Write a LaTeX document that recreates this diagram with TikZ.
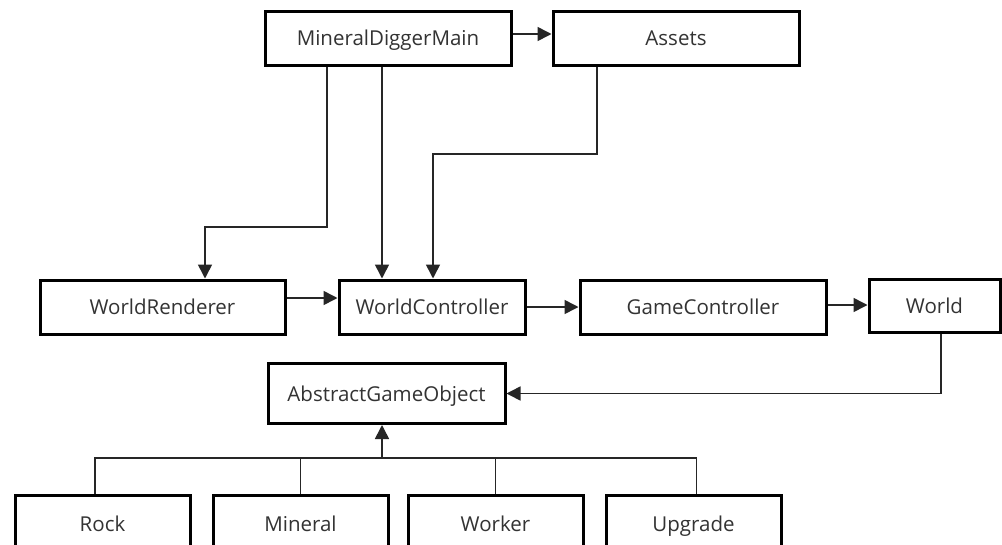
\documentclass[tikz,border=0pt]{standalone}
\usepackage{fontspec}
\setmainfont{Open Sans}
\usetikzlibrary{arrows.meta}
\begin{document}
\begin{tikzpicture}[x=1pt,y=-1pt,
  box/.style={draw=black,line width=3pt,fill=white,inner sep=0pt,minimum height=54pt,
    text height=15pt,text depth=0pt,
    text=black!80,font=\fontsize{20.5}{24}\selectfont},
  conn/.style={draw=black!85,line width=1.6pt},
  arr/.style={conn,-{Triangle[length=14pt,width=14pt]}}]
\useasboundingbox[fill=white] (0,0) rectangle (1002,544);
% nodes
\node[box,minimum width=246pt] (mdm) at (388,38) {MineralDiggerMain};
\node[box,minimum width=246pt] (assets) at (676,38) {Assets};
\node[box,minimum width=245pt] (wr) at (162.5,307) {WorldRenderer};
\node[box,minimum width=186pt] (wc) at (432,307) {WorldController};
\node[box,minimum width=246pt] (gc) at (703,307) {GameController};
\node[box,minimum width=131pt,minimum height=53pt] (world) at (934.5,305.5) {World};
\node[box,minimum width=237pt,minimum height=60pt] (ago) at (386.5,393.5) {AbstractGameObject};
\node[box,minimum width=175pt,minimum height=58pt] (rock) at (102.5,524) {Rock};
\node[box,minimum width=175pt,minimum height=58pt] (mineral) at (300.5,524) {Mineral};
\node[box,minimum width=175pt,minimum height=58pt] (worker) at (495.5,524) {Worker};
\node[box,minimum width=175pt,minimum height=58pt] (upgrade) at (693.5,524) {Upgrade};
% helper coordinates
\coordinate (m1) at ([xshift=-61pt]mdm.south);
\coordinate (m2) at ([xshift=-6pt]mdm.south);
\coordinate (a1) at ([xshift=-79pt]assets.south);
\coordinate (k1) at (205,227);
\coordinate (k2) at (433,154);
\coordinate (w1) at ([xshift=6.5pt]world.south);
\coordinate (bar) at (382,458);
\coordinate (r1) at ([xshift=-7.5pt]rock.north);
\coordinate (u1) at ([xshift=3pt]upgrade.north);
\coordinate (e1) at ([yshift=4pt]mdm.east);
\coordinate (e2) at ([yshift=9pt]wr.east);
\coordinate (e3) at ([yshift=2pt]gc.east);
% connectors
\draw[arr] (e1) -- (e1 -| assets.west);
\draw[arr] (m1) |- (k1) -- (k1 |- wr.north);
\draw[arr] (m2) -- (m2 |- wc.north);
\draw[arr] (a1) |- (k2) -- (k2 |- wc.north);
\draw[arr] (e2) -- (e2 -| wc.west);
\draw[arr] (wc.east) -- (gc.west);
\draw[arr] (e3) -- (e3 -| world.west);
\draw[arr] (w1) |- (ago.east);
\draw[conn] (r1) |- (bar) -| (u1);
\draw[conn] (mineral.north) -- (mineral.north |- bar);
\draw[conn] (worker.north) -- (worker.north |- bar);
\draw[arr] (bar) -- (bar |- ago.south);
\end{tikzpicture}
\end{document}
